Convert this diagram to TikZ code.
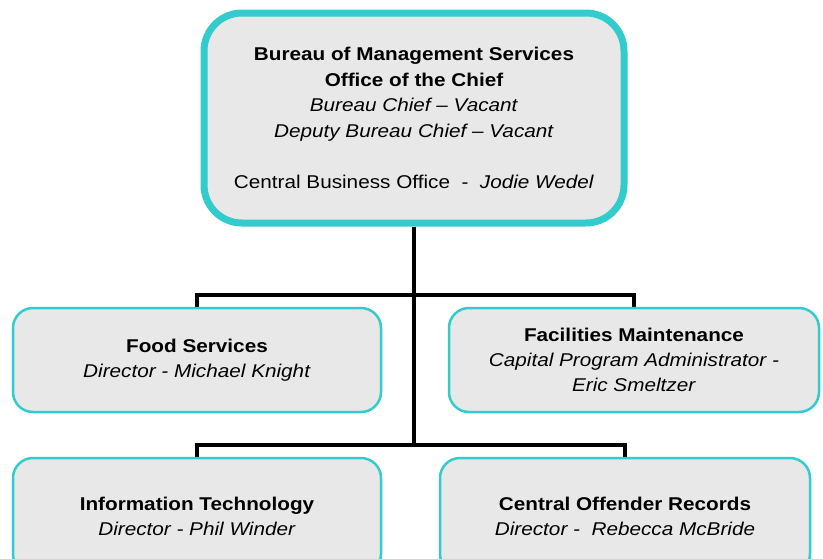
\documentclass[tikz,border=0pt]{standalone}
\usepackage{fontspec}
\setmainfont{Liberation Sans}[FakeStretch=1.12]
\usetikzlibrary{backgrounds}
\definecolor{teal1}{RGB}{51,204,204}
\definecolor{boxgray}{RGB}{232,232,232}
\begin{document}
\begin{tikzpicture}[x=1pt,y=-1pt,
  topbox/.style={draw=teal1, fill=boxgray, line width=7pt, rounded corners=38pt,
    minimum width=420pt, minimum height=210pt, align=center, inner sep=0pt,
    font=\fontsize{18.5}{25.5}\selectfont},
  unitbox/.style={draw=teal1, fill=boxgray, line width=2.5pt, rounded corners=20pt,
    minimum width=368pt, minimum height=104pt, align=center, inner sep=0pt,
    font=\fontsize{18.5}{25}\selectfont},
  conn/.style={line width=4pt, black}]
\useasboundingbox (0,0) rectangle (823,558);
\clip (0,0) rectangle (823,558);

\node[topbox] (top) at (414,118) {\textbf{Bureau of Management Services}\\
  \textbf{Office of the Chief}\\
  \textit{Bureau Chief -- Vacant}\\
  \textit{Deputy Bureau Chief -- Vacant}\\[25.5pt]
  Central Business Office \ - \ \textit{Jodie Wedel}};

\node[unitbox] (food) at (197,360) {\textbf{Food Services}\\
  \textit{Director - Michael Knight}};
\node[unitbox, minimum width=370pt] (fac) at (634,360) {\textbf{Facilities Maintenance}\\
  \textit{Capital Program Administrator -}\\
  \textit{Eric Smeltzer}};
\node[unitbox, minimum height=116pt] (it) at (197,516) {\textbf{Information Technology}\\
  \textit{Director - Phil Winder}};
\node[unitbox, minimum width=370pt, minimum height=116pt] (cor) at (625,516) {\textbf{Central Offender Records}\\
  \textit{Director - \ Rebecca McBride}};

\coordinate (j1) at (414,295);
\coordinate (j2) at (414,445);

\begin{scope}[on background layer]
\fill[white] (0,0) rectangle (823,558);
\draw[conn] (top.south) -- (j2);
\draw[conn] (food.north) |- (j1) -| (fac.north);
\draw[conn] (it.north) |- (j2) -| (cor.north);
\end{scope}
\end{tikzpicture}
\end{document}
